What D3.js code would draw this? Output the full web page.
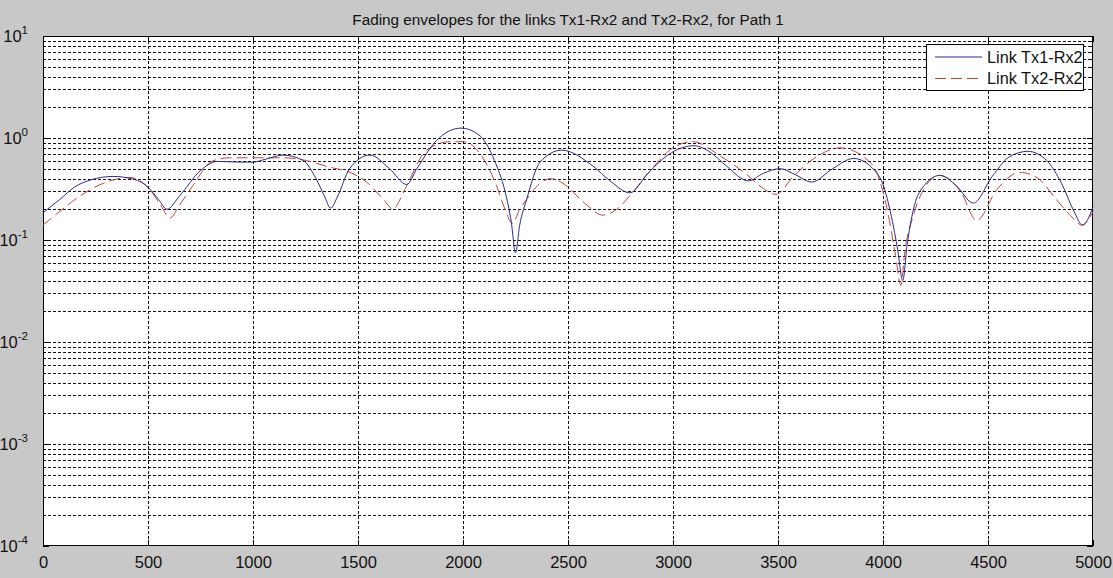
<!DOCTYPE html>
<html>
<head>
<meta charset="utf-8">
<script src="https://cdn.jsdelivr.net/npm/d3@7"></script>
<style>
  html, body { margin: 0; padding: 0; background: #c8c8c8; }
  svg { display: block; font-family: Arial, "Liberation Sans", Helvetica, sans-serif; }
</style>
</head>
<body>
<svg id="chart" width="1113" height="578"></svg>
<script>
// Fading envelope samples: distance along the path and envelope amplitude
const tx1Dist = [0, 80, 150, 230, 335, 420, 500, 550, 590, 650, 750, 830, 940, 1000, 1060, 1143, 1240, 1300, 1340, 1370, 1400, 1460, 1557, 1650, 1732, 1780, 1875, 1990, 2081, 2150, 2200, 2230, 2250, 2270, 2303, 2367, 2470, 2619, 2700, 2795, 2880, 2994, 3100, 3180, 3255, 3359, 3430, 3510, 3580, 3660, 3760, 3860, 3960, 4000, 4040, 4070, 4094, 4115, 4145, 4200, 4270, 4350, 4430, 4520, 4600, 4690, 4780, 4850, 4910, 4950, 5000];
const tx1Amp  = [0.185, 0.25, 0.33, 0.39, 0.42, 0.40, 0.33, 0.25, 0.20, 0.27, 0.48, 0.59, 0.58, 0.58, 0.62, 0.68, 0.60, 0.40, 0.27, 0.205, 0.26, 0.50, 0.68, 0.50, 0.35, 0.50, 0.95, 1.25, 1.05, 0.60, 0.30, 0.15, 0.075, 0.14, 0.25, 0.58, 0.76, 0.53, 0.38, 0.29, 0.45, 0.72, 0.84, 0.72, 0.53, 0.38, 0.45, 0.50, 0.44, 0.37, 0.50, 0.63, 0.48, 0.35, 0.17, 0.08, 0.04, 0.09, 0.20, 0.35, 0.43, 0.34, 0.23, 0.42, 0.65, 0.74, 0.60, 0.36, 0.19, 0.14, 0.21];

const tx2Dist = [0, 65, 176, 303, 414, 510, 560, 605, 650, 700, 811, 890, 1005, 1143, 1256, 1360, 1462, 1541, 1621, 1668, 1700, 1732, 1827, 1938, 2002, 2081, 2160, 2200, 2235, 2270, 2303, 2367, 2421, 2484, 2579, 2668, 2732, 2800, 2873, 3000, 3095, 3224, 3350, 3430, 3490, 3573, 3667, 3795, 3922, 3976, 4020, 4060, 4085, 4105, 4143, 4200, 4270, 4373, 4446, 4541, 4652, 4740, 4825, 4910, 4946, 5000];
const tx2Amp  = [0.14, 0.18, 0.27, 0.37, 0.41, 0.31, 0.22, 0.165, 0.22, 0.31, 0.60, 0.64, 0.64, 0.64, 0.60, 0.52, 0.46, 0.37, 0.25, 0.20, 0.25, 0.34, 0.76, 0.92, 0.92, 0.70, 0.34, 0.20, 0.145, 0.20, 0.25, 0.36, 0.40, 0.35, 0.23, 0.175, 0.20, 0.28, 0.43, 0.80, 0.92, 0.67, 0.44, 0.32, 0.28, 0.42, 0.62, 0.80, 0.62, 0.43, 0.20, 0.07, 0.036, 0.08, 0.17, 0.33, 0.43, 0.29, 0.155, 0.31, 0.46, 0.40, 0.25, 0.16, 0.14, 0.19];

const xTicks = [0, 500, 1000, 1500, 2000, 2500, 3000, 3500, 4000, 4500, 5000];
const yExponents = [-4, -3, -2, -1, 0, 1];
const seriesNames = ["Link Tx1-Rx2", "Link Tx2-Rx2"];
const titleText = "Fading envelopes for the links Tx1-Rx2 and Tx2-Rx2, for Path 1";

const svg = d3.select("#chart");
const plot = { left: 43, right: 1093, top: 36, bottom: 546 };

const x = d3.scaleLinear().domain([0, 5000]).range([plot.left, plot.right]);
const y = d3.scaleLog().domain([1e-4, 10]).range([plot.bottom, plot.top]);

// plotting area
svg.append("rect")
  .attr("x", plot.left).attr("y", plot.top)
  .attr("width", plot.right - plot.left).attr("height", plot.bottom - plot.top)
  .attr("fill", "#ffffff");

// minor + major grid values on the log axis
const yGrid = [];
yExponents.forEach(e => {
  if (e < 1) {
    for (let m = 1; m <= 9; m++) yGrid.push(m * Math.pow(10, e));
  } else {
    yGrid.push(Math.pow(10, e));
  }
});

const grid = svg.append("g").attr("stroke", "#111").attr("stroke-width", 1)
  .attr("stroke-dasharray", "3,2").attr("fill", "none");

grid.selectAll("line.gy").data(yGrid.filter(v => v > 1e-4 && v < 10)).enter()
  .append("line")
  .attr("x1", plot.left).attr("x2", plot.right)
  .attr("y1", d => Math.round(y(d)) + 0.5).attr("y2", d => Math.round(y(d)) + 0.5);

grid.selectAll("line.gx").data(xTicks.filter(v => v > 0 && v < 5000)).enter()
  .append("line")
  .attr("x1", d => Math.round(x(d)) + 0.5).attr("x2", d => Math.round(x(d)) + 0.5)
  .attr("y1", plot.top).attr("y2", plot.bottom);

// tick marks (inside, on all four sides)
const ticks = svg.append("g").attr("stroke", "#000").attr("stroke-width", 1);
xTicks.forEach(v => {
  const px = Math.round(x(v)) + 0.5;
  ticks.append("line").attr("x1", px).attr("x2", px).attr("y1", plot.bottom).attr("y2", plot.bottom - 6);
  ticks.append("line").attr("x1", px).attr("x2", px).attr("y1", plot.top).attr("y2", plot.top + 6);
});
yGrid.forEach(v => {
  const py = Math.round(y(v)) + 0.5;
  const major = Math.abs(Math.log10(v) - Math.round(Math.log10(v))) < 1e-9;
  const len = major ? 6 : 3;
  ticks.append("line").attr("x1", plot.left).attr("x2", plot.left + len).attr("y1", py).attr("y2", py);
  ticks.append("line").attr("x1", plot.right).attr("x2", plot.right - len).attr("y1", py).attr("y2", py);
});

// axes frame
svg.append("rect")
  .attr("x", plot.left + 0.5).attr("y", plot.top + 0.5)
  .attr("width", plot.right - plot.left - 1).attr("height", plot.bottom - plot.top - 1)
  .attr("fill", "none").attr("stroke", "#000").attr("stroke-width", 1);

// x tick labels via a D3 axis (tick lines hidden, drawn above)
const xAxis = d3.axisBottom(x).tickValues(xTicks).tickSize(0).tickPadding(0).tickFormat(d3.format("d"));
const gx = svg.append("g").attr("transform", `translate(0,${plot.bottom})`).call(xAxis);
gx.select(".domain").remove();
gx.selectAll("text")
  .attr("font-size", 16.5).attr("fill", "#111")
  .attr("font-family", "Arial, 'Liberation Sans', sans-serif")
  .attr("dy", null).attr("y", 22);

// y tick labels: 10 with a raised exponent
const yLab = svg.append("g").attr("font-size", 16.5).attr("fill", "#111");
yExponents.forEach(e => {
  const t = yLab.append("text")
    .attr("x", 28).attr("y", y(Math.pow(10, e)) + 6)
    .attr("text-anchor", "end");
  t.append("tspan").text("10");
  t.append("tspan").attr("dy", -8.5).attr("font-size", 11.5).text(String(e));
});

// series
const line = d3.line().x(d => x(d[0])).y(d => y(d[1])).curve(d3.curveMonotoneX);
const tx1 = tx1Dist.map((d, i) => [d, tx1Amp[i]]);
const tx2 = tx2Dist.map((d, i) => [d, tx2Amp[i]]);

svg.append("path").datum(tx2).attr("d", line)
  .attr("fill", "none").attr("stroke", "#c0443c").attr("stroke-width", 1)
  .attr("stroke-dasharray", "11,5");
svg.append("path").datum(tx1).attr("d", line)
  .attr("fill", "none").attr("stroke", "#2a2a8c").attr("stroke-width", 1);

// title
svg.append("text")
  .attr("x", (plot.left + plot.right) / 2).attr("y", 25)
  .attr("text-anchor", "middle").attr("font-size", 15.3).attr("fill", "#111")
  .text(titleText);

// legend
const lg = svg.append("g");
lg.append("rect").attr("x", 926.5).attr("y", 44.5).attr("width", 157).attr("height", 46)
  .attr("fill", "#fff").attr("stroke", "#000").attr("stroke-width", 1);
const legendStyles = [
  { color: "#2a2a8c", dash: null, y: 57 },
  { color: "#c0443c", dash: "11,5", y: 78.5 }
];
seriesNames.forEach((name, i) => {
  const s = legendStyles[i];
  lg.append("line").attr("x1", 935).attr("x2", 982).attr("y1", s.y).attr("y2", s.y)
    .attr("stroke", s.color).attr("stroke-width", 1).attr("stroke-dasharray", s.dash);
  lg.append("text").attr("x", 987).attr("y", s.y + 5.5)
    .attr("font-size", 16.3).attr("fill", "#111").text(name);
});
</script>
</body>
</html>
